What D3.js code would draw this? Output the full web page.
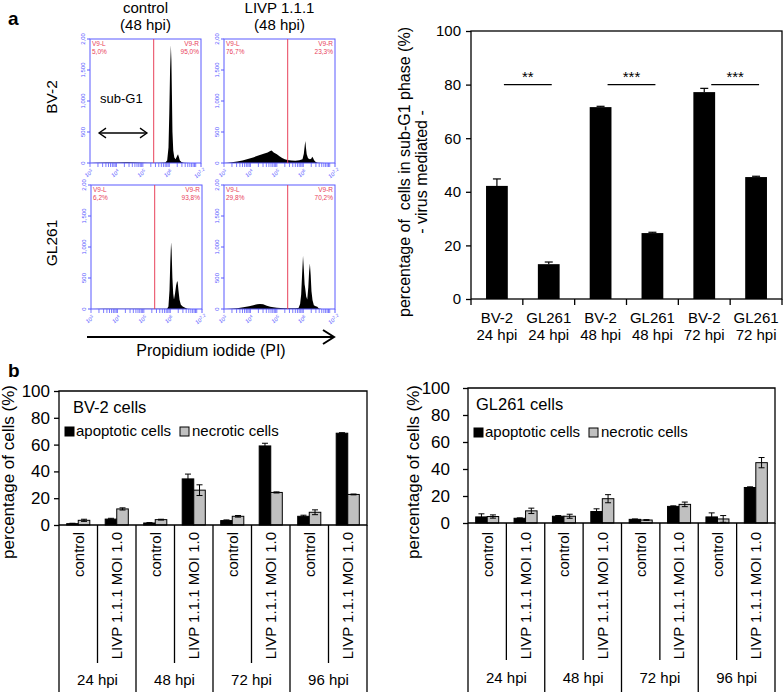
<!DOCTYPE html>
<html><head><meta charset="utf-8">
<script src="https://cdn.jsdelivr.net/npm/d3@7"></script>
<style>
body{margin:0;background:#fff}
svg{display:block}
text{font-family:Arial,"Liberation Sans",sans-serif}
</style>
</head><body>
<svg id="c" width="784" height="692"></svg>
<script>
// ---------------- DATA ----------------
// Panel a (left): flow cytometry histograms, [log10(PI intensity), cell count]
const histBV2Control = [[3.0,0],[3.2,6],[3.6,8],[4.0,10],[4.4,12],[4.8,10],[5.2,6],[5.6,5],[5.85,8],[5.92,40],[5.97,250],[6.0,800],[6.03,1500],[6.06,1900],[6.08,1650],[6.1,1100],[6.12,500],[6.15,200],[6.19,90],[6.24,60],[6.29,110],[6.33,140],[6.36,100],[6.4,40],[6.46,15],[6.55,5],[6.8,2],[7.2,0]];
const histBV2Livp = [[3.0,0],[3.15,4],[3.3,12],[3.5,25],[3.7,40],[3.9,65],[4.1,90],[4.3,120],[4.5,150],[4.65,170],[4.75,195],[4.8,200],[4.88,170],[5.0,140],[5.1,110],[5.2,80],[5.3,60],[5.4,48],[5.55,40],[5.7,38],[5.85,45],[5.97,60],[6.02,150],[6.06,300],[6.08,355],[6.1,250],[6.13,140],[6.18,75],[6.25,60],[6.3,70],[6.34,100],[6.37,80],[6.41,45],[6.47,15],[6.55,4],[6.8,0],[7.2,0]];
const histGL261Control = [[3.0,0],[3.5,3],[4.0,4],[4.4,6],[4.8,6],[5.2,4],[5.6,3],[5.88,5],[5.93,40],[5.97,300],[6.0,750],[6.03,1076],[6.05,950],[6.08,500],[6.11,250],[6.14,152],[6.18,250],[6.22,380],[6.26,451],[6.28,430],[6.31,300],[6.35,150],[6.4,70],[6.47,40],[6.56,20],[6.65,5],[6.8,0],[7.2,0]];
const histGL261Livp = [[3.0,0],[3.22,3],[3.5,12],[3.73,27],[3.95,45],[4.11,60],[4.25,75],[4.36,82],[4.48,75],[4.62,54],[4.75,38],[4.87,27],[5.0,20],[5.13,16],[5.3,12],[5.51,11],[5.7,13],[5.82,16],[5.88,80],[5.92,234],[5.96,600],[5.99,860],[6.02,650],[6.05,400],[6.07,342],[6.11,200],[6.15,152],[6.19,350],[6.22,600],[6.25,734],[6.28,550],[6.31,288],[6.35,140],[6.4,60],[6.47,45],[6.53,38],[6.59,10],[6.7,0],[7.2,0]];
const histGate = 5.41;
const gateLeftLabel = "V9-L";
const gateRightLabel = "V9-R";
const gateLeftPct = ["5,0%","76,7%","6,2%","29,8%"];
const gateRightPct = ["95,0%","23,3%","93,8%","70,2%"];
const histYTicks = [0,500,1000,1500,2000];
const histYTickLabels = ["0","500","1,000","1,500","2,00"];
const histXDecades = [3,4,5,6,7.2];
const histColHeaders = [["control","(48 hpi)"],["LIVP 1.1.1","(48 hpi)"]];
const histRowHeaders = ["BV-2","GL261"];

// Panel a (right): sub-G1 percentages
const subG1Cells = ["BV-2","GL261","BV-2","GL261","BV-2","GL261"];
const subG1Times = ["24 hpi","24 hpi","48 hpi","48 hpi","72 hpi","72 hpi"];
const subG1Values = [42.2,13.0,71.6,24.6,77.2,45.5];
const subG1Errors = [2.6,0.8,0.3,0.3,1.4,0.3];
const sigPairs = [[0,1],[2,3],[4,5]];
const sigLabels = ["**","***","***"];
const sigLevel = 80;
const subG1YTicks = [0,20,40,60,80,100];

// Panel b: apoptotic / necrotic cells
const hpiGroups = ["24 hpi","48 hpi","72 hpi","96 hpi"];
const treatments = ["control","LIVP 1.1.1 MOI 1.0"];
const seriesNames = ["apoptotic cells","necrotic cells"];
const cellYTicks = [0,20,40,60,80,100];
const bv2Apoptotic    = [1.0,4.4,1.5,34.4,3.3,59.0,6.5,68.5];
const bv2ApoptoticErr = [0.3,0.6,0.3,3.6,0.5,2.0,0.8,0.4];
const bv2Necrotic     = [3.5,12.0,4.0,26.0,6.5,24.3,9.5,22.8];
const bv2NecroticErr  = [0.8,0.8,0.3,4.0,0.6,0.4,1.8,0.3];
const glApoptotic     = [4.5,3.5,5.0,8.5,2.7,12.3,4.5,26.3];
const glApoptoticErr  = [2.3,0.3,0.5,2.0,0.3,0.4,3.0,0.5];
const glNecrotic      = [4.8,9.0,5.0,18.0,2.2,13.8,3.0,44.7];
const glNecroticErr   = [1.2,2.0,1.5,3.0,0.3,1.7,2.5,3.8];

// ---------------- DRAWING ----------------
const svg = d3.select("#c");
const BLUE = "#5a5aff", RED = "#e8425a", GREY = "#c0c0c0";

// panel letters
svg.append("text").attr("x",8).attr("y",25).attr("font-size",19).attr("font-weight","bold").text("a");
svg.append("text").attr("x",8).attr("y",377).attr("font-size",19).attr("font-weight","bold").text("b");

// ---- histograms
const histSets = [histBV2Control, histBV2Livp, histGL261Control, histGL261Livp];
const histBoxes = [{x:90,y:39},{x:224,y:39},{x:91,y:185},{x:224,y:185}];
const HW = 111, HH = 124;

histSets.forEach((data,i)=>{
  const b = histBoxes[i];
  const x = d3.scaleLog().domain([1e3, Math.pow(10,7.2)]).range([b.x, b.x+HW]);
  const y = d3.scaleLinear().domain([0,2000]).range([b.y+HH, b.y]);
  const g = svg.append("g");
  g.append("path").datum(data)
    .attr("d", d3.area().x(d=>x(Math.pow(10,d[0]))).y0(y(0)).y1(d=>y(d[1])))
    .attr("fill","#000");
  g.append("rect").attr("x",b.x).attr("y",b.y).attr("width",HW).attr("height",HH)
    .attr("fill","none").attr("stroke",BLUE).attr("stroke-width",1);
  const gx = x(Math.pow(10,histGate));
  g.append("line").attr("x1",gx).attr("x2",gx).attr("y1",b.y).attr("y2",b.y+HH)
    .attr("stroke",RED).attr("stroke-width",1);
  // gate labels
  const fs = 6.5;
  g.append("text").attr("x",b.x+2).attr("y",b.y+7).attr("font-size",fs).attr("fill",RED).text(gateLeftLabel);
  g.append("text").attr("x",b.x+2).attr("y",b.y+14.5).attr("font-size",fs).attr("fill",RED).text(gateLeftPct[i]);
  g.append("text").attr("x",b.x+HW-2).attr("y",b.y+7).attr("font-size",fs).attr("fill",RED).attr("text-anchor","end").text(gateRightLabel);
  g.append("text").attr("x",b.x+HW-2).attr("y",b.y+14.5).attr("font-size",fs).attr("fill",RED).attr("text-anchor","end").text(gateRightPct[i]);
  // y ticks
  histYTicks.forEach((t,k)=>{
    g.append("line").attr("x1",b.x-3).attr("x2",b.x).attr("y1",y(t)).attr("y2",y(t)).attr("stroke",BLUE);
    g.append("text").attr("transform",`translate(${b.x-5},${y(t)}) rotate(-90)`)
      .attr("text-anchor","middle").attr("font-size",6).attr("fill",BLUE).text(histYTickLabels[k]);
  });
  // x ticks (log minor)
  x.ticks().forEach(t=>{
    g.append("line").attr("x1",x(t)).attr("x2",x(t)).attr("y1",b.y+HH).attr("y2",b.y+HH+4).attr("stroke",BLUE).attr("stroke-width",0.8);
  });
  g.append("line").attr("x1",x(Math.pow(10,7.2))).attr("x2",x(Math.pow(10,7.2))).attr("y1",b.y+HH).attr("y2",b.y+HH+4).attr("stroke",BLUE);
  histXDecades.forEach(d=>{
    const t = g.append("text").attr("transform",`translate(${x(Math.pow(10,d))},${b.y+HH+12}) rotate(-35)`)
      .attr("text-anchor","middle").attr("font-size",5.5).attr("fill",BLUE);
    t.append("tspan").text("10");
    t.append("tspan").attr("dy",-2).attr("font-size",4.5).text(String(d));
  });
});

// column headers
histColHeaders.forEach((h,i)=>{
  const cx = histBoxes[i].x + HW/2;
  svg.append("text").attr("x",cx).attr("y",13).attr("text-anchor","middle").attr("font-size",15).text(h[0]);
  svg.append("text").attr("x",cx).attr("y",30).attr("text-anchor","middle").attr("font-size",15).text(h[1]);
});
// row headers
histRowHeaders.forEach((h,i)=>{
  const cy = histBoxes[i*2].y + HH/2;
  svg.append("text").attr("transform",`translate(57,${cy-4}) rotate(-90)`).attr("text-anchor","middle").attr("font-size",15.5).text(h);
});
// sub-G1 annotation
svg.append("text").attr("x",100).attr("y",103).attr("font-size",13).text("sub-G1");
function dblArrow(x1,x2,y,s){
  const g = svg.append("g").attr("stroke","#000").attr("stroke-width",1.3).attr("fill","none");
  g.append("line").attr("x1",x1).attr("x2",x2).attr("y1",y).attr("y2",y);
  g.append("path").attr("d",`M${x1+s},${y-s*0.7}L${x1},${y}L${x1+s},${y+s*0.7}`);
  g.append("path").attr("d",`M${x2-s},${y-s*0.7}L${x2},${y}L${x2-s},${y+s*0.7}`);
}
dblArrow(99,147,133,7);
// PI arrow
(function(){
  const g = svg.append("g").attr("stroke","#000").attr("stroke-width",2).attr("fill","none");
  g.append("line").attr("x1",87).attr("x2",333).attr("y1",337).attr("y2",337);
  g.append("path").attr("d","M323,330L334,337L323,344");
})();
svg.append("text").attr("x",211).attr("y",356).attr("text-anchor","middle").attr("font-size",16).text("Propidium iodide (PI)");

// ---- sub-G1 bar chart
(function(){
  const L=471,R=782,T=31,B=299;
  const x = d3.scaleBand().domain(d3.range(subG1Values.length)).range([L,R]);
  const y = d3.scaleLinear().domain([0,100]).range([B,T]);
  const bw = x.bandwidth();
  const g = svg.append("g");
  g.selectAll("rect.bar").data(subG1Values).join("rect")
    .attr("x",(d,i)=>x(i)+bw*0.29).attr("width",bw*0.42)
    .attr("y",d=>y(d)).attr("height",d=>B-y(d)).attr("fill","#000");
  subG1Values.forEach((v,i)=>{
    const cx = x(i)+bw/2, e = subG1Errors[i];
    g.append("line").attr("x1",cx).attr("x2",cx).attr("y1",y(v)).attr("y2",y(v+e)).attr("stroke","#000").attr("stroke-width",1.2);
    g.append("line").attr("x1",cx-4).attr("x2",cx+4).attr("y1",y(v+e)).attr("y2",y(v+e)).attr("stroke","#000").attr("stroke-width",1.2);
  });
  g.append("rect").attr("x",L).attr("y",T).attr("width",R-L).attr("height",B-T).attr("fill","none").attr("stroke","#000").attr("stroke-width",1.3);
  const ya = g.append("g").attr("transform",`translate(${L},0)`)
    .call(d3.axisLeft(y).tickValues(subG1YTicks).tickSize(5).tickPadding(5));
  ya.select(".domain").remove();
  ya.selectAll("text").attr("font-size",15).attr("font-family",'Arial,"Liberation Sans",sans-serif').attr("fill","#000");
  ya.selectAll("line").attr("stroke-width",1.3);
  d3.range(subG1Values.length+1).forEach(i=>{
    const xx = L + i*bw;
    g.append("line").attr("x1",xx).attr("x2",xx).attr("y1",B).attr("y2",B+6).attr("stroke","#000").attr("stroke-width",1.3);
  });
  subG1Values.forEach((v,i)=>{
    const cx = x(i)+bw/2;
    g.append("text").attr("x",cx).attr("y",323).attr("text-anchor","middle").attr("font-size",15).text(subG1Cells[i]);
    g.append("text").attr("x",cx).attr("y",340).attr("text-anchor","middle").attr("font-size",15).text(subG1Times[i]);
  });
  sigPairs.forEach((p,k)=>{
    const x1 = x(p[0])+bw/2+7, x2 = x(p[1])+bw/2+3;
    g.append("line").attr("x1",x1).attr("x2",x2).attr("y1",y(sigLevel)).attr("y2",y(sigLevel)).attr("stroke","#000").attr("stroke-width",1.3);
    g.append("text").attr("x",(x1+x2)/2).attr("y",y(sigLevel)-3).attr("text-anchor","middle").attr("font-size",15).text(sigLabels[k]);
  });
  g.append("text").attr("transform","translate(410,172) rotate(-90)").attr("text-anchor","middle").attr("font-size",16).attr("xml:space","preserve").text("percentage of  cells in sub-G1 phase (%)");
  g.append("text").attr("transform","translate(427,172) rotate(-90)").attr("text-anchor","middle").attr("font-size",16).text("- virus mediated -");
})();

// ---- panel b charts
function cellChart(o){
  const {L,R,T,B,title,apo,apoErr,nec,necErr,tickPad,titleX,legY,shortEnd,hpiY} = o;
  const n = apo.length;
  const x = d3.scaleBand().domain(d3.range(n)).range([L,R]);
  const y = d3.scaleLinear().domain([0,100]).range([B,T]);
  const bw = x.bandwidth();
  const g = svg.append("g");
  const series = [{v:apo,e:apoErr,fill:"#000",off:-0.3},{v:nec,e:necErr,fill:GREY,off:0}];
  series.forEach(s=>{
    g.selectAll(null).data(s.v).join("rect")
      .attr("x",(d,i)=>x(i)+bw/2+s.off*bw).attr("width",bw*0.3)
      .attr("y",d=>y(d)).attr("height",d=>B-y(d))
      .attr("fill",s.fill).attr("stroke","#000").attr("stroke-width",1);
  });
  series.forEach(s=>{
    s.v.forEach((v,i)=>{
      const cx = x(i)+bw/2+s.off*bw+bw*0.15, e = s.e[i];
      const lo = Math.max(0,v-e);
      g.append("line").attr("x1",cx).attr("x2",cx).attr("y1",y(lo)).attr("y2",y(v+e)).attr("stroke","#000").attr("stroke-width",1);
      g.append("line").attr("x1",cx-3).attr("x2",cx+3).attr("y1",y(v+e)).attr("y2",y(v+e)).attr("stroke","#000").attr("stroke-width",1);
      g.append("line").attr("x1",cx-3).attr("x2",cx+3).attr("y1",y(lo)).attr("y2",y(lo)).attr("stroke","#000").attr("stroke-width",1);
    });
  });
  g.append("path").attr("d",`M${L},${B}L${L},${T}L${R},${T}L${R},${B}Z`).attr("fill","none").attr("stroke","#000").attr("stroke-width",1.3);
  const ya = g.append("g").attr("transform",`translate(${L},0)`)
    .call(d3.axisLeft(y).tickValues(cellYTicks).tickSize(5).tickPadding(tickPad));
  ya.select(".domain").remove();
  ya.selectAll("text").attr("font-size",17).attr("font-family",'Arial,"Liberation Sans",sans-serif').attr("fill","#000");
  ya.selectAll("line").attr("stroke-width",1.3);
  d3.range(n+1).forEach(i=>{
    const xx = L + i*bw;
    const long = (i%2===0);
    g.append("line").attr("x1",xx).attr("x2",xx).attr("y1",B).attr("y2",long?692:shortEnd)
      .attr("stroke","#000").attr("stroke-width",1.3);
  });
  d3.range(n).forEach(i=>{
    g.append("text").attr("transform",`translate(${x(i)+bw/2},532) rotate(-90)`)
      .attr("text-anchor","end").attr("dy","0.36em").attr("font-size",15).text(treatments[i%2]);
  });
  hpiGroups.forEach((h,k)=>{
    g.append("text").attr("x",L+bw*(2*k+1)).attr("y",hpiY).attr("text-anchor","middle").attr("font-size",15).text(h);
  });
  g.append("text").attr("x",titleX).attr("y",T+22).attr("font-size",16.5).text(title);
  g.append("rect").attr("x",L+6).attr("y",legY-9).attr("width",9).attr("height",9).attr("fill","#000").attr("stroke","#000");
  g.append("text").attr("x",L+17).attr("y",legY).attr("font-size",15).text(seriesNames[0]);
  g.append("rect").attr("x",L+121).attr("y",legY-9).attr("width",9).attr("height",9).attr("fill",GREY).attr("stroke","#000");
  g.append("text").attr("x",L+133).attr("y",legY).attr("font-size",15).text(seriesNames[1]);
  g.append("text").attr("transform",`translate(${o.ytX},472) rotate(-90)`).attr("text-anchor","middle").attr("font-size",17).text("percentage of cells (%)");
}
cellChart({L:59,R:367,T:391,B:525,title:"BV-2 cells",apo:bv2Apoptotic,apoErr:bv2ApoptoticErr,nec:bv2Necrotic,necErr:bv2NecroticErr,tickPad:4,titleX:73,legY:436,shortEnd:663,hpiY:685,ytX:14});
cellChart({L:468,R:775,T:388,B:523,title:"GL261 cells",apo:glApoptotic,apoErr:glApoptoticErr,nec:glNecrotic,necErr:glNecroticErr,tickPad:13,titleX:476,legY:437,shortEnd:660,hpiY:683,ytX:419});
</script>
</body></html>
